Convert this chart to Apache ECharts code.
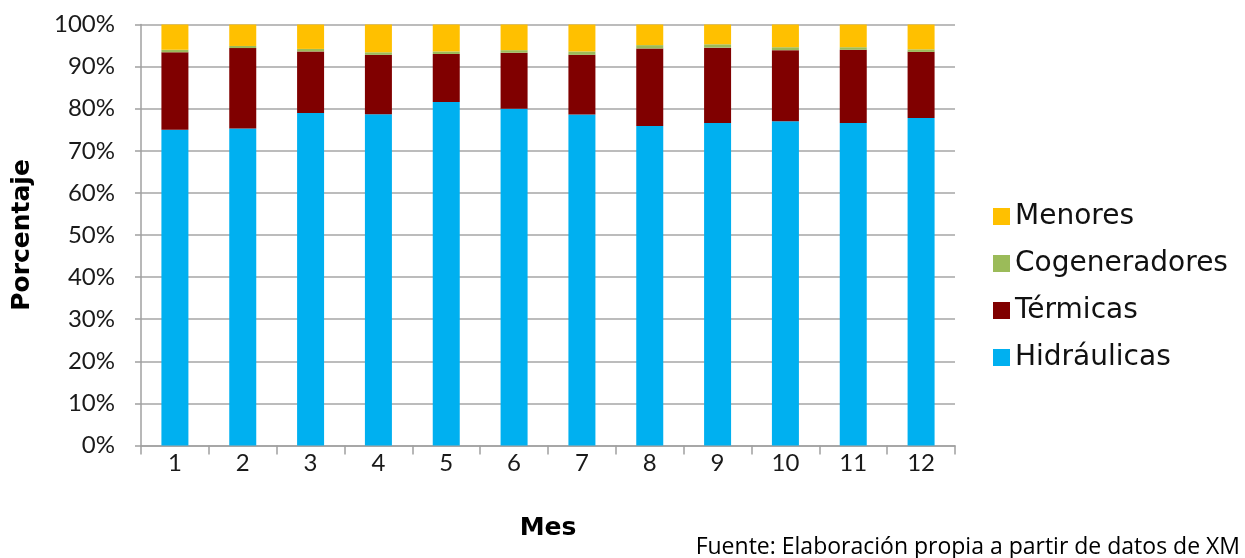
<!DOCTYPE html>
<html>
<head>
<meta charset="utf-8">
<script src="https://cdn.jsdelivr.net/npm/echarts@6/dist/echarts.min.js"></script>
<style>
  html, body { margin: 0; padding: 0; background: #ffffff; }
  #chart { width: 1245px; height: 558px; }
</style>
</head>
<body>
<div id="chart"></div>
<script>
// Monthly share of generation by source (percent of total)
const months = ['1', '2', '3', '4', '5', '6', '7', '8', '9', '10', '11', '12'];
const hidraulicas   = [75.0, 75.3, 79.0, 78.7, 81.6, 80.0, 78.6, 75.9, 76.6, 77.0, 76.6, 77.8];
const termicas      = [18.4, 19.1, 14.6, 14.1, 11.4, 13.3, 14.2, 18.4, 17.9, 16.9, 17.4, 15.7];
const cogeneradores = [0.6, 0.5, 0.6, 0.6, 0.6, 0.6, 0.8, 0.8, 0.8, 0.7, 0.6, 0.6];
const menores       = [6.0, 5.1, 5.8, 6.6, 6.4, 6.1, 6.4, 4.9, 4.7, 5.4, 5.4, 5.9];
const yTicks = [0, 10, 20, 30, 40, 50, 60, 70, 80, 90, 100];

const labelFont = 'Lato, "DejaVu Sans", sans-serif';
const titleFont = '"DejaVu Sans", sans-serif';
const colors = {
  Hidráulicas: '#00B0F0',
  Térmicas: '#800000',
  Cogeneradores: '#9BBB59',
  Menores: '#FFC000'
};

function barSeries(name, data) {
  return {
    name: name,
    type: 'bar',
    stack: 'total',
    barWidth: 27,
    data: data,
    itemStyle: { color: colors[name] },
    emphasis: { disabled: true }
  };
}

const chart = echarts.init(document.getElementById('chart'), null, { renderer: 'canvas' });
chart.setOption({
  animation: false,
  backgroundColor: '#ffffff',
  grid: { left: 141, right: 290, top: 24.5, bottom: 112.5, containLabel: false },
  legend: {
    orient: 'vertical',
    left: 988,
    top: 197.5,
    itemWidth: 17,
    itemHeight: 17,
    itemGap: 19,
    icon: 'rect',
    data: ['Menores', 'Cogeneradores', 'Térmicas', 'Hidráulicas'],
    textStyle: { fontFamily: titleFont, fontSize: 28, color: '#111', padding: 0 },
    selectedMode: false
  },
  xAxis: {
    type: 'category',
    data: months,
    name: 'Mes',
    nameLocation: 'middle',
    nameGap: 70,
    nameTextStyle: { fontFamily: titleFont, fontSize: 25, fontWeight: 'bold', color: '#000' },
    axisLine: { lineStyle: { color: '#a0a0a0', width: 1.5 } },
    axisTick: { show: true, alignWithLabel: false, length: 9, lineStyle: { color: '#a0a0a0', width: 1.5 } },
    axisLabel: { fontFamily: labelFont, fontSize: 24, color: '#1a1a1a', margin: 6 }
  },
  yAxis: {
    type: 'value',
    min: 0,
    max: 100,
    interval: 10,
    name: 'Porcentaje',
    nameLocation: 'middle',
    nameGap: 106,
    nameRotate: 90,
    nameTextStyle: { fontFamily: titleFont, fontSize: 25, fontWeight: 'bold', color: '#000' },
    axisLine: { show: true, lineStyle: { color: '#a0a0a0', width: 1.5 } },
    axisTick: { show: true, length: 6, lineStyle: { color: '#a0a0a0', width: 1.5 } },
    axisLabel: {
      fontFamily: labelFont, fontSize: 24, color: '#1a1a1a', margin: 26,
      formatter: function (v) { return yTicks.indexOf(v) >= 0 ? v + '%' : ''; }
    },
    splitLine: { show: true, lineStyle: { color: '#a6a6a6', width: 1.5 } }
  },
  series: [
    barSeries('Hidráulicas', hidraulicas),
    barSeries('Térmicas', termicas),
    barSeries('Cogeneradores', cogeneradores),
    barSeries('Menores', menores)
  ],
  graphic: [{
    type: 'text',
    x: 1240,
    y: 547,
    style: {
      text: 'Fuente: Elaboración propia a partir de datos de XM',
      font: '23px "Open Sans", sans-serif',
      fill: '#000',
      align: 'right',
      verticalAlign: 'middle'
    }
  }]
});
</script>
</body>
</html>
